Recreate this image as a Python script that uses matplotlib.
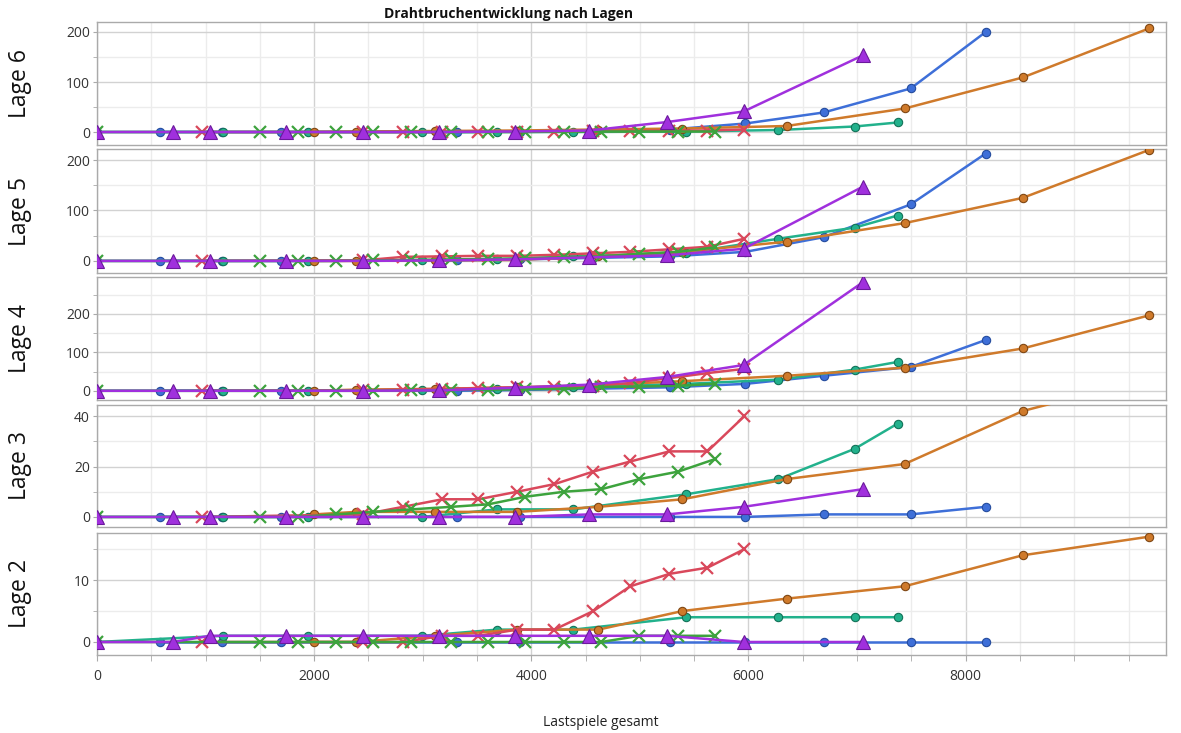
import matplotlib
matplotlib.use("Agg")
from matplotlib import pyplot as plt
from matplotlib.ticker import MultipleLocator

plt.rcParams['font.family'] = ['Open Sans', 'DejaVu Sans']

# x-Werte (Lastspiele gesamt) je Serie
x_blau = [581, 1152, 1696, 3318, 3899, 5281, 5972, 6691, 7493, 8184]
x_orange = [2000, 2387, 3115, 3871, 4618, 5392, 6350, 7438, 8525, 9687]
x_tuerkis = [0, 1161, 1945, 2995, 3687, 4387, 5429, 6276, 6977, 7373]
x_rot = [968, 2452, 2820, 3180, 3512, 3871, 4212, 4571, 4912, 5272, 5622, 5963]
x_gruen = [0, 1502, 1853, 2203, 2544, 2894, 3263, 3604, 3945, 4304, 4645, 4995, 5355, 5696]
x_lila = [0, 700, 1041, 1742, 2452, 3152, 3853, 4535, 5253, 5954, 7051]

# Drahtbrueche je Lage
lage6_blau = [0, 0, 0, 0, 1, 5, 17, 39, 87, 200]
lage6_orange = [0, 1, 2, 3, 5, 7, 12, 47, 109, 207]
lage6_tuerkis = [0, 0, 0, 0, 0, 0, 1, 4, 11, 19]
lage6_rot = [0, 0, 0, 0, 1, 1, 1, 2, 2, 3, 3, 5]
lage6_gruen = [0, 0, 0, 0, 0, 0, 0, 0, 0, 1, 1, 1, 1, 1]
lage6_lila = [0, 0, 0, 0, 0, 0, 1, 3, 20, 41, 153]

lage5_blau = [0, 0, 0, 1, 3, 9, 18, 47, 112, 213]
lage5_orange = [0, 0, 1, 2, 9, 18, 38, 75, 125, 220]
lage5_tuerkis = [0, 0, 0, 1, 3, 9, 16, 44, 66, 90]
lage5_rot = [0, 1, 8, 9, 10, 10, 12, 15, 18, 23, 28, 44]
lage5_gruen = [0, 0, 0, 0, 1, 2, 3, 4, 5, 7, 9, 14, 18, 27]
lage5_lila = [0, 0, 0, 0, 0, 1, 3, 7, 11, 24, 147]

lage4_blau = [0, 0, 0, 0, 2, 9, 18, 39, 62, 132]
lage4_orange = [0, 3, 5, 9, 15, 25, 39, 60, 110, 196]
lage4_tuerkis = [0, 0, 0, 1, 4, 10, 18, 29, 55, 75]
lage4_rot = [0, 1, 3, 5, 7, 9, 10, 13, 20, 33, 46, 57]
lage4_gruen = [0, 0, 0, 0, 0, 1, 2, 3, 4, 5, 10, 11, 13, 18]
lage4_lila = [0, 0, 0, 0, 0, 1, 8, 16, 36, 67, 282]

lage3_blau = [0, 0, 0, 0, 0, 0, 0, 1, 1, 4]
lage3_orange = [1, 2, 2, 2, 4, 7, 15, 21, 42, 55]
lage3_tuerkis = [0, 0, 0, 0, 3, 3, 9, 15, 27, 37]
lage3_rot = [0, 1, 4, 7, 7, 10, 13, 18, 22, 26, 26, 40]
lage3_gruen = [0, 0, 0, 1, 2, 3, 4, 5, 8, 10, 11, 15, 18, 23]
lage3_lila = [0, 0, 0, 0, 0, 0, 0, 1, 1, 4, 11]

lage2_blau = [0, 0, 0, 0, 0, 0, 0, 0, 0, 0]
lage2_orange = [0, 0, 1, 2, 2, 5, 7, 9, 14, 17]
lage2_tuerkis = [0, 1, 1, 1, 2, 2, 4, 4, 4, 4]
lage2_rot = [0, 0, 0, 1, 1, 2, 2, 5, 9, 11, 12, 15]
lage2_gruen = [0, 0, 0, 0, 0, 0, 0, 0, 0, 0, 0, 1, 1, 1]
lage2_lila = [0, 0, 1, 1, 1, 1, 1, 1, 1, 0, 0]

lagen = ["Lage 6", "Lage 5", "Lage 4", "Lage 3", "Lage 2"]
daten = [
    (lage6_blau, lage6_orange, lage6_tuerkis, lage6_rot, lage6_gruen, lage6_lila),
    (lage5_blau, lage5_orange, lage5_tuerkis, lage5_rot, lage5_gruen, lage5_lila),
    (lage4_blau, lage4_orange, lage4_tuerkis, lage4_rot, lage4_gruen, lage4_lila),
    (lage3_blau, lage3_orange, lage3_tuerkis, lage3_rot, lage3_gruen, lage3_lila),
    (lage2_blau, lage2_orange, lage2_tuerkis, lage2_rot, lage2_gruen, lage2_lila),
]

# Achsenbereiche und Ticks je Panel
ylims = [(-26, 220), (-24, 222), (-24, 296), (-4, 44.4), (-2.1, 17.6)]
major = [100, 100, 100, 20, 10]
minor = [50, 50, 50, 10, 5]
# Panel-Positionen in Pixeln (oben, unten)
panels = [(22, 145), (149, 273), (277, 400), (405, 527), (533, 655)]

W, H = 1181, 733
fig = plt.figure(figsize=(W / 100, H / 100), dpi=100)

left = 97 / W
width = (1166 - 97) / W

for i, (name, werte) in enumerate(zip(lagen, daten)):
    top, bot = panels[i]
    ax = fig.add_axes([left, (H - bot) / H, width, (bot - top) / H])
    blau, orange, tuerkis, rot, gruen, lila = werte

    ax.plot(x_blau, blau, color='#3e6fd8', lw=1.8, marker='o', ms=6,
            mfc='#3e6fd8', mec='#254c9e', mew=0.8, zorder=3)
    ax.plot(x_tuerkis, tuerkis, color='#22b18c', lw=1.8, marker='o', ms=6,
            mfc='#22b18c', mec='#137258', mew=0.8, zorder=3)
    ax.plot(x_orange, orange, color='#cf7a2b', lw=1.8, marker='o', ms=6,
            mfc='#cf7a2b', mec='#7f4714', mew=0.8, zorder=3)
    ax.plot(x_rot, rot, color='#d9485b', lw=1.8, marker='x', ms=9,
            mew=1.6, zorder=4)
    ax.plot(x_gruen, gruen, color='#3da33d', lw=1.8, marker='x', ms=9,
            mew=1.6, zorder=4)
    ax.plot(x_lila, lila, color='#a030dd', lw=1.8, marker='^', ms=10,
            mfc='#a030dd', mec='#6b1a9c', mew=0.8, zorder=5)

    ax.set_xlim(0, 9845)
    ax.set_ylim(*ylims[i])
    ax.xaxis.set_major_locator(MultipleLocator(2000))
    ax.xaxis.set_minor_locator(MultipleLocator(500))
    ax.yaxis.set_major_locator(MultipleLocator(major[i]))
    ax.yaxis.set_minor_locator(MultipleLocator(minor[i]))
    ax.grid(which='major', color='#d2d2d2', lw=1.0, zorder=0)
    ax.grid(which='minor', color='#ececec', lw=1.0, zorder=0)
    ax.set_axisbelow(True)
    for s in ax.spines.values():
        s.set_color('#aaaaaa')
        s.set_linewidth(1.0)
    ax.tick_params(axis='y', which='both', direction='out', length=3,
                   color='#aaaaaa', labelsize=10, labelcolor='#333333', pad=2)
    if i < len(lagen) - 1:
        ax.tick_params(axis='x', which='both', bottom=False, labelbottom=False)
    else:
        ax.tick_params(axis='x', which='both', direction='out', length=4,
                       color='#aaaaaa', labelsize=10, labelcolor='#333333', pad=6)

    fig.text(20 / W, (H - (top + bot) / 2) / H, name, rotation=90,
             fontsize=16.5, ha='center', va='center', color='#111111')

fig.text(509 / W, 1 - 14 / H, 'Drahtbruchentwicklung nach Lagen',
         fontsize=10, fontweight='bold', ha='center', va='center', color='#111111')
fig.text(601 / W, 11 / H, 'Lastspiele gesamt', fontsize=10,
         ha='center', va='center', color='#222222')

fig.savefig('out.png', dpi=100)
